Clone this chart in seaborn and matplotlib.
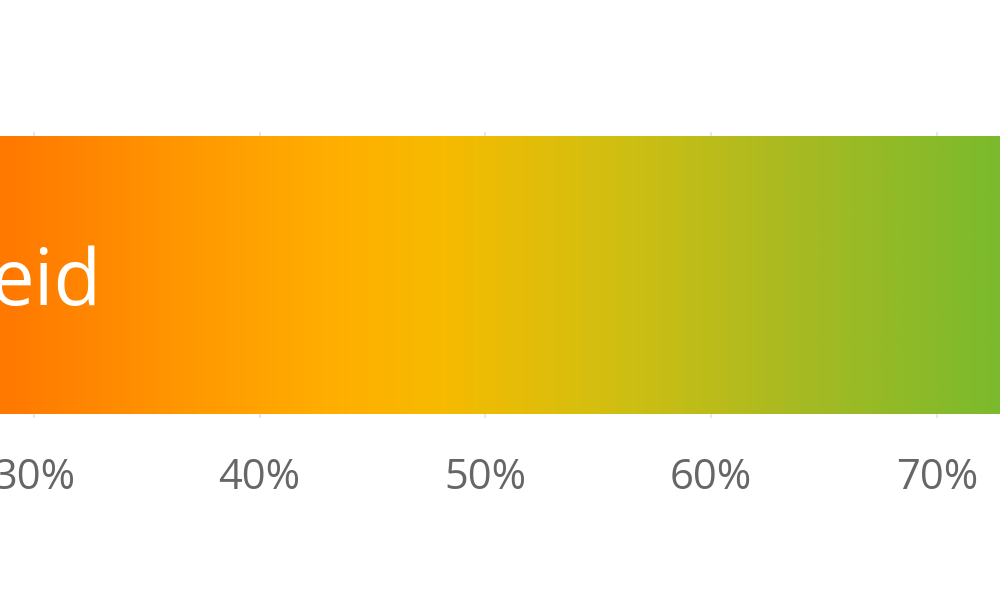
import numpy as np
import pandas as pd
import matplotlib.pyplot as plt
import seaborn as sns
from matplotlib.colors import LinearSegmentedColormap
from matplotlib.transforms import blended_transform_factory

sns.set_theme(style='white')
plt.rcParams['font.family'] = ['Open Sans', 'DejaVu Sans']

# data
categories = ['Tevredenheid']
values = [75.0]
label_text = ['eid']
ticks = [30, 40, 50, 60, 70]
tick_labels = ['30%', '40%', '50%', '60%', '70%']

# gradient stops (value -> colour)
stop_values = [28.5, 37.4, 43.1, 48.0, 55.1, 63.9, 72.8]
stop_colors = ['#ff7800', '#ff9a00', '#ffae00', '#f7ba00', '#d4bf10', '#a7ba22', '#7bba2d']

df = pd.DataFrame({'categorie': categories, 'waarde': values})

fig = plt.figure(figsize=(10, 6.14), dpi=100)
ax = fig.add_axes([0, 1 - 418 / 614, 1, 286 / 614])

sns.barplot(data=df, x='waarde', y='categorie', orient='h', width=0.972,
            color='#ff7800', ax=ax)

xmin, xmax = 28.5, 72.8
ax.set_xlim(xmin, xmax)
ax.set_ylim(0.5, -0.5)

# gradient fill clipped to the bar
bar = ax.patches[0]
bar.set_facecolor('none')
bar.set_edgecolor('none')
span = stop_values[-1] - stop_values[0]
cmap = LinearSegmentedColormap.from_list(
    'grad', [((v - stop_values[0]) / span, c) for v, c in zip(stop_values, stop_colors)])
grad = np.linspace(0, 1, 512).reshape(1, -1)
y0 = bar.get_y()
y1 = y0 + bar.get_height()
img = ax.imshow(grad, cmap=cmap, aspect='auto',
                extent=[stop_values[0], stop_values[-1], y1, y0], zorder=2)
img.set_clip_path(bar)

ax.set_xticks(ticks)
ax.set_xticklabels(tick_labels)
ax.set_yticks([])
ax.set_xlabel('')
ax.set_ylabel('')
ax.grid(axis='x', color='#e3e3e3', linewidth=1.2)
ax.set_axisbelow(True)
for s in ax.spines.values():
    s.set_visible(False)
ax.tick_params(axis='x', length=0, pad=28, labelsize=30, labelcolor='#666666')

trans = blended_transform_factory(ax.transData, ax.transAxes)
ax.text(xmin + 102 / 1000 * (xmax - xmin), (418 - 305) / 286, label_text[0],
        transform=trans, ha='right', va='baseline', color='white',
        fontsize=56, zorder=3)

fig.savefig('out.png', dpi=100)
